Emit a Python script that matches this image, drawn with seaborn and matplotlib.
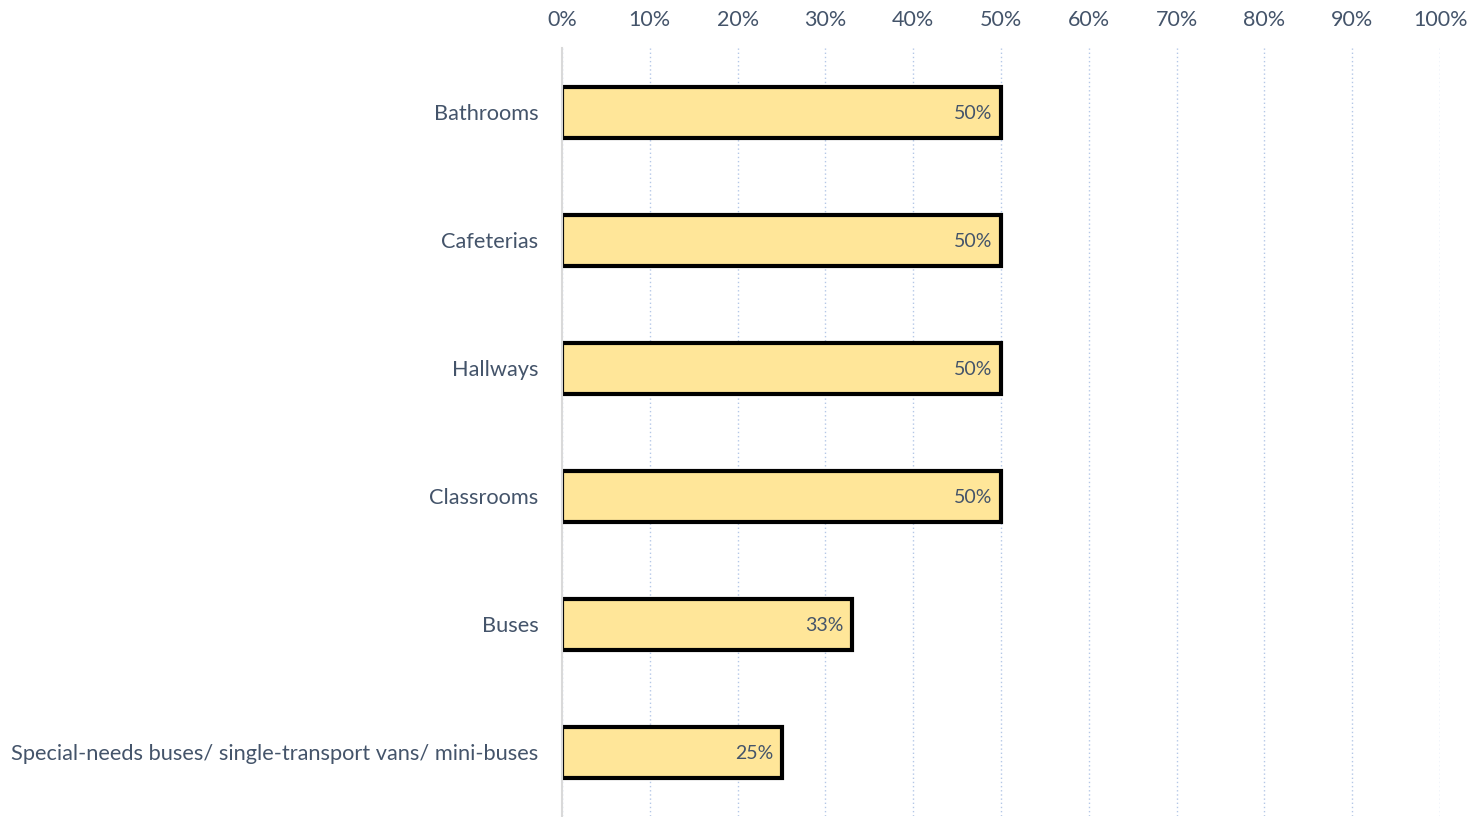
import numpy as np
import pandas as pd
import matplotlib
matplotlib.use("Agg")
import matplotlib.pyplot as plt
import seaborn as sns
from matplotlib.ticker import PercentFormatter

categories = ['Bathrooms', 'Cafeterias', 'Hallways', 'Classrooms', 'Buses',
              'Special-needs buses/ single-transport vans/ mini-buses']
values = [0.50, 0.50, 0.50, 0.50, 0.33, 0.25]
value_labels = ['50%', '50%', '50%', '50%', '33%', '25%']

df = pd.DataFrame({'area': categories, 'share': values})

sns.set_theme(style='white')
plt.rcParams['font.family'] = ['Lato', 'DejaVu Sans']
text_col = '#44546A'

fig = plt.figure(figsize=(14.69, 8.17), dpi=100)
ax = fig.add_axes([0.3826, 0.001, 0.5977, 0.9401])

sns.barplot(data=df, x='share', y='area', orient='h', color='#FFE699',
            saturation=1, edgecolor='black', linewidth=3, width=0.4, ax=ax)

ax.set_xlim(0, 1)
ax.set_xticks(np.arange(0, 1.01, 0.1))
ax.xaxis.set_major_formatter(PercentFormatter(1.0, decimals=0))
ax.xaxis.tick_top()
ax.tick_params(axis='x', length=0, pad=13, labelsize=15.5, labelcolor=text_col)
ax.tick_params(axis='y', length=0, pad=17, labelsize=15.7, labelcolor=text_col)
ax.set_xlabel('')
ax.set_ylabel('')

ax.grid(axis='x', color='#B4C7E7', linestyle=(0, (1, 2)), linewidth=1)
ax.set_axisbelow(True)
for s in ['top', 'right', 'bottom']:
    ax.spines[s].set_visible(False)
ax.spines['left'].set_color('#D9D9D9')
ax.spines['left'].set_linewidth(1.5)

texts = ax.bar_label(ax.containers[0], labels=value_labels, padding=-6,
                     fontsize=14, color=text_col)
for t in texts:
    t.set_ha('right')
    t.set_va('center_baseline')

fig.savefig('out.png', dpi=100)
